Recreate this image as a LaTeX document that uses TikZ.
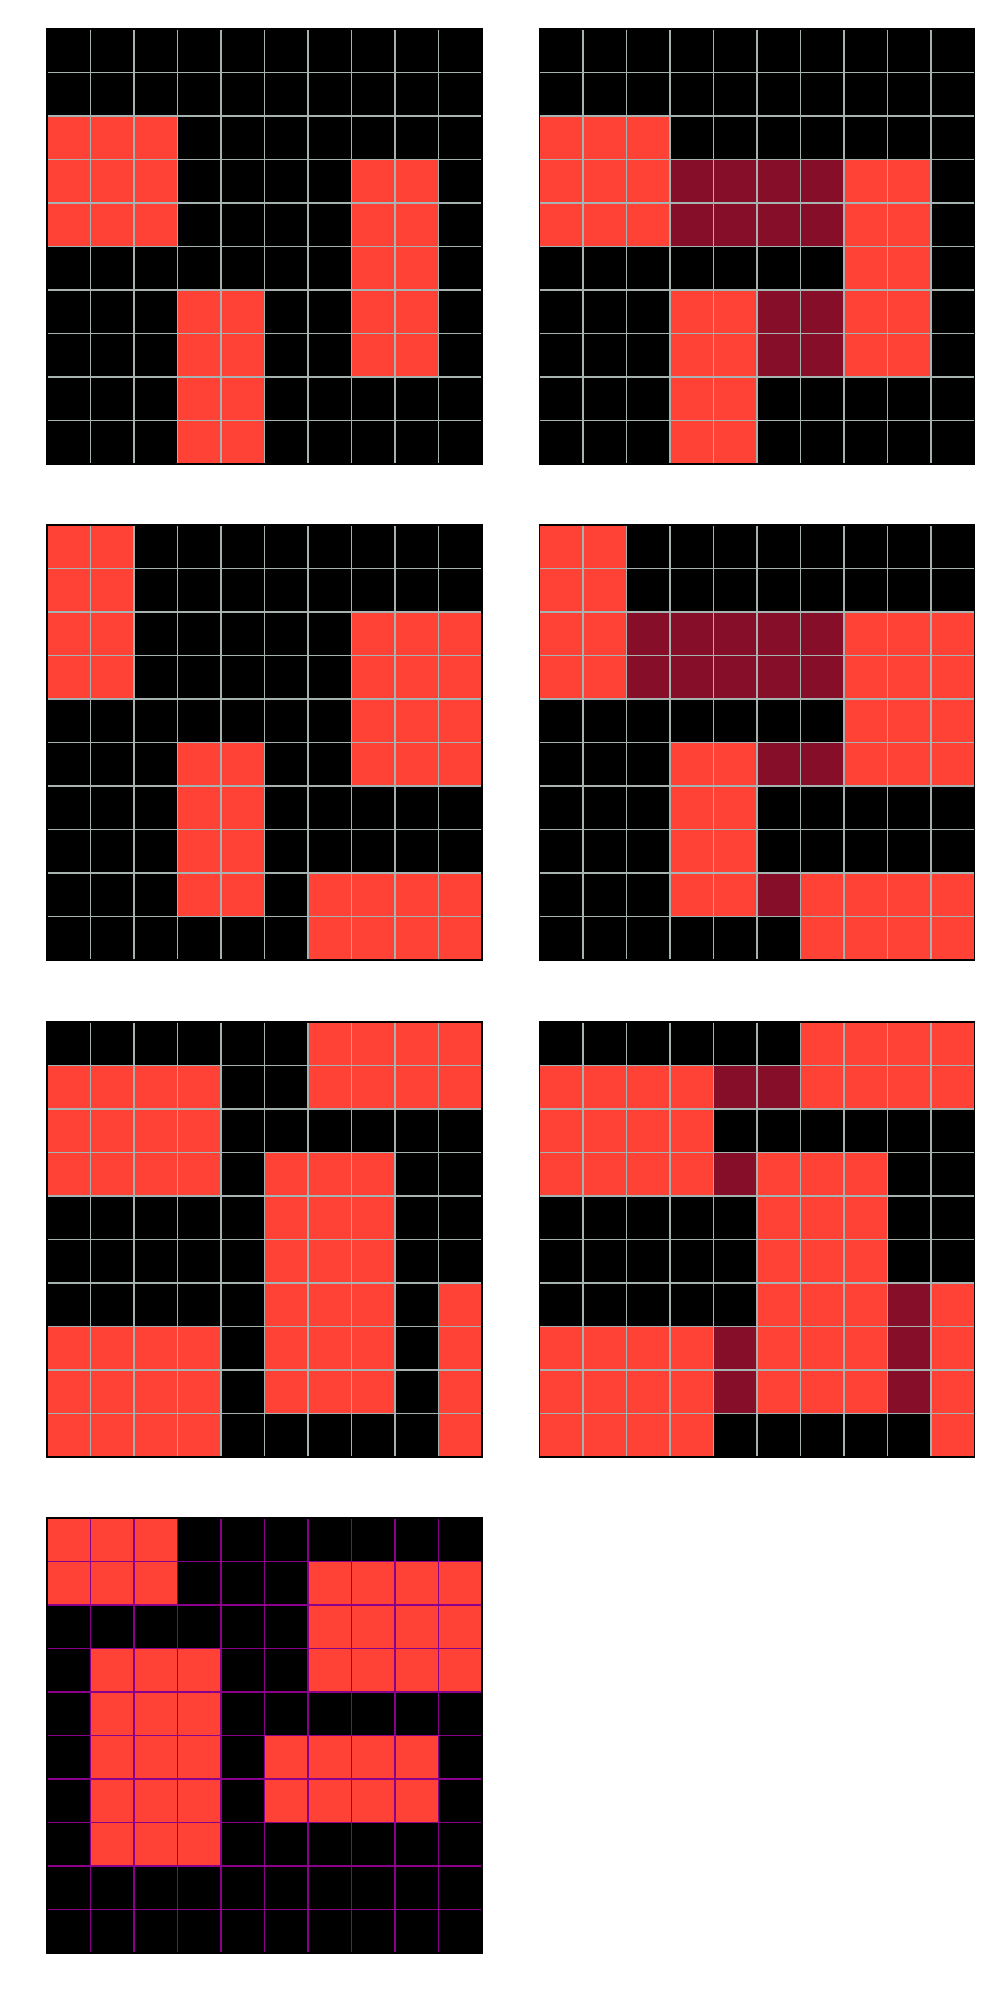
\documentclass[tikz,border=0pt]{standalone}
\usepackage{xcolor}
\usepackage{tikz}
\usetikzlibrary{positioning}

\definecolor{arcred}{HTML}{FF4136}
\definecolor{arcmaroon}{HTML}{870E28}
\definecolor{linegray}{HTML}{A7B3B1}
\definecolor{linepurple}{HTML}{8B008B}

\begin{document}
\begin{tikzpicture}[
    x=0.435cm, y=-0.435cm,
    bakgrid/.style={fill=black},
    selred/.style={fill=arcred},
    selmaroon/.style={fill=arcmaroon},
    garis/.style={draw=linegray, line width=0.4pt},
    garisungu/.style={draw=linepurple, line width=0.5pt},
    bingkai/.style={draw=black, line width=0.4pt}
  ]
    \useasboundingbox[fill=white] (0cm,0cm) rectangle (10cm,-20cm);

    % grid 1 (top left)
    \begin{scope}[shift={(0.47cm,-0.29cm)}]
      \fill[bakgrid] (0,0) rectangle (10,10);
      \foreach \a/\b/\c/\d in {0/2/2/4, 7/3/8/7, 3/6/4/9}
        \fill[selred] (\a,\b) rectangle (\c+1,\d+1);
      \foreach \i in {1,...,9} {\draw[garis] (\i,0) -- (\i,10); \draw[garis] (0,\i) -- (10,\i);}
      \draw[bingkai] (0,0) rectangle (10,10);
    \end{scope}

    % grid 2 (top right)
    \begin{scope}[shift={(5.395cm,-0.29cm)}]
      \fill[bakgrid] (0,0) rectangle (10,10);
      \foreach \a/\b/\c/\d in {0/2/2/4, 7/3/8/7, 3/6/4/9}
        \fill[selred] (\a,\b) rectangle (\c+1,\d+1);
      \foreach \a/\b/\c/\d in {3/3/6/4, 5/6/6/7}
        \fill[selmaroon] (\a,\b) rectangle (\c+1,\d+1);
      \foreach \i in {1,...,9} {\draw[garis] (\i,0) -- (\i,10); \draw[garis] (0,\i) -- (10,\i);}
      \draw[bingkai] (0,0) rectangle (10,10);
    \end{scope}

    % grid 3
    \begin{scope}[shift={(0.47cm,-5.25cm)}]
      \fill[bakgrid] (0,0) rectangle (10,10);
      \foreach \a/\b/\c/\d in {0/0/1/3, 7/2/9/5, 3/5/4/8, 6/8/9/9}
        \fill[selred] (\a,\b) rectangle (\c+1,\d+1);
      \foreach \i in {1,...,9} {\draw[garis] (\i,0) -- (\i,10); \draw[garis] (0,\i) -- (10,\i);}
      \draw[bingkai] (0,0) rectangle (10,10);
    \end{scope}

    % grid 4
    \begin{scope}[shift={(5.395cm,-5.25cm)}]
      \fill[bakgrid] (0,0) rectangle (10,10);
      \foreach \a/\b/\c/\d in {0/0/1/3, 7/2/9/5, 3/5/4/8, 6/8/9/9}
        \fill[selred] (\a,\b) rectangle (\c+1,\d+1);
      \foreach \a/\b/\c/\d in {2/2/6/3, 5/5/6/5, 5/8/5/8}
        \fill[selmaroon] (\a,\b) rectangle (\c+1,\d+1);
      \foreach \i in {1,...,9} {\draw[garis] (\i,0) -- (\i,10); \draw[garis] (0,\i) -- (10,\i);}
      \draw[bingkai] (0,0) rectangle (10,10);
    \end{scope}

    % grid 5
    \begin{scope}[shift={(0.47cm,-10.22cm)}]
      \fill[bakgrid] (0,0) rectangle (10,10);
      \foreach \a/\b/\c/\d in {6/0/9/1, 0/1/3/3, 5/3/7/8, 9/6/9/9, 0/7/3/9}
        \fill[selred] (\a,\b) rectangle (\c+1,\d+1);
      \foreach \i in {1,...,9} {\draw[garis] (\i,0) -- (\i,10); \draw[garis] (0,\i) -- (10,\i);}
      \draw[bingkai] (0,0) rectangle (10,10);
    \end{scope}

    % grid 6
    \begin{scope}[shift={(5.395cm,-10.22cm)}]
      \fill[bakgrid] (0,0) rectangle (10,10);
      \foreach \a/\b/\c/\d in {6/0/9/1, 0/1/3/3, 5/3/7/8, 9/6/9/9, 0/7/3/9}
        \fill[selred] (\a,\b) rectangle (\c+1,\d+1);
      \foreach \a/\b/\c/\d in {4/1/5/1, 4/3/4/3, 8/6/8/8, 4/7/4/8}
        \fill[selmaroon] (\a,\b) rectangle (\c+1,\d+1);
      \foreach \i in {1,...,9} {\draw[garis] (\i,0) -- (\i,10); \draw[garis] (0,\i) -- (10,\i);}
      \draw[bingkai] (0,0) rectangle (10,10);
    \end{scope}

    % grid 7 (test, purple lines)
    \begin{scope}[shift={(0.47cm,-15.18cm)}]
      \fill[bakgrid] (0,0) rectangle (10,10);
      \foreach \a/\b/\c/\d in {0/0/2/1, 6/1/9/3, 1/3/3/7, 5/5/8/6}
        \fill[selred] (\a,\b) rectangle (\c+1,\d+1);
      \foreach \i in {1,...,9} {\draw[garisungu] (\i,0) -- (\i,10); \draw[garisungu] (0,\i) -- (10,\i);}
      \draw[bingkai] (0,0) rectangle (10,10);
    \end{scope}
  \end{tikzpicture}
\end{document}
